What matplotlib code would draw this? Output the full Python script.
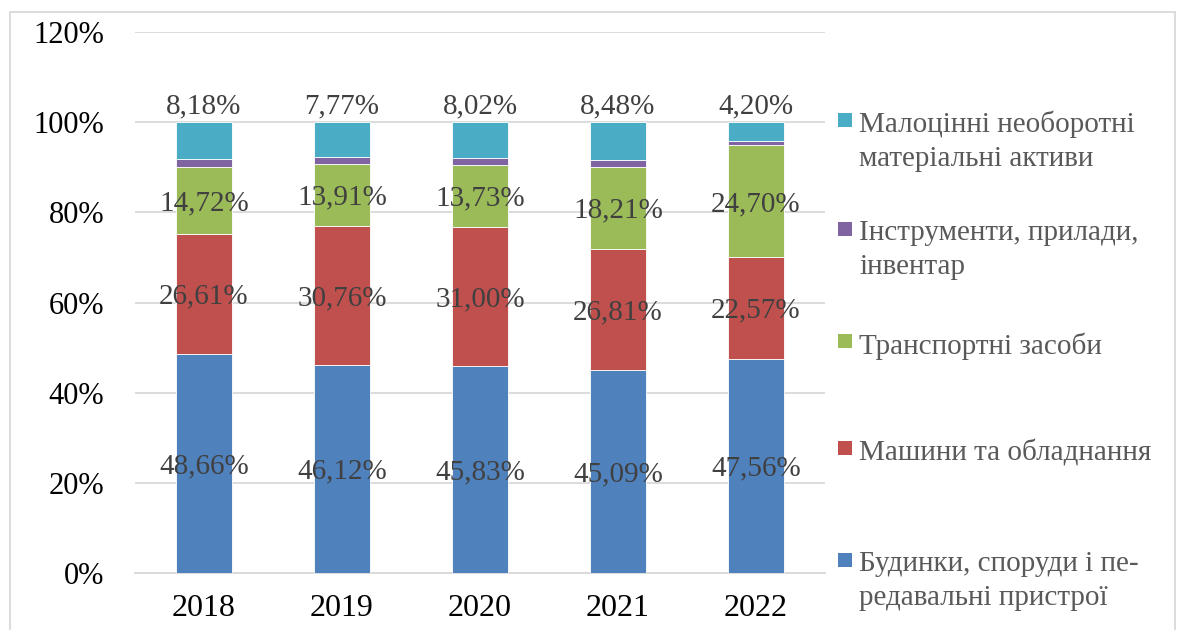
import matplotlib
matplotlib.use("Agg")
import matplotlib.pyplot as plt
from matplotlib.patches import Rectangle
import numpy as np

years = ["2018", "2019", "2020", "2021", "2022"]
series_names = [
    "Будинки, споруди і пе-\nредавальні пристрої",
    "Машини та обладнання",
    "Транспортні засоби",
    "Інструменти, прилади,\nінвентар",
    "Малоцінні необоротні\nматеріальні активи",
]
buildings = [48.66, 46.12, 45.83, 45.09, 47.56]
machines = [26.61, 30.76, 31.00, 26.81, 22.57]
transport = [14.72, 13.91, 13.73, 18.21, 24.70]
instruments = [1.83, 1.44, 1.42, 1.41, 0.97]
low_value = [8.18, 7.77, 8.02, 8.48, 4.20]
colors = ["#4F81BD", "#C0504D", "#9BBB59", "#8064A2", "#4BACC6"]
y_ticks = [0, 20, 40, 60, 80, 100, 120]

plt.rcParams["font.family"] = ["Liberation Serif", "DejaVu Serif"]

W, H = 1181, 630
fig = plt.figure(figsize=(W / 100, H / 100), dpi=100)
ax = fig.add_axes([135 / W, 1 - 573 / H, 690 / W, 541 / H])

data = [buildings, machines, transport, instruments, low_value]
x = np.arange(len(years))
bottom = np.zeros(len(years))
for vals, col in zip(data, colors):
    ax.bar(x, vals, width=0.4, bottom=bottom, color=col, edgecolor="white",
           linewidth=0.6, zorder=3)
    bottom = bottom + np.array(vals)

def fmt(v):
    return f"{v:.2f}%".replace(".", ",")

label_color = "#404040"
lfs = 21
cum = np.zeros(len(years))
for i, vals in enumerate(data):
    vals = np.array(vals)
    for j in range(len(years)):
        if i in (0, 1, 2):
            ax.annotate(fmt(vals[j]), (x[j], cum[j] + vals[j] / 2), xytext=(0, -2),
                        textcoords="offset points", ha="center", va="center",
                        fontsize=lfs, color=label_color, zorder=5)
        elif i == 4:
            ax.annotate(fmt(vals[j]), (x[j], cum[j] + vals[j]), xytext=(0, 2),
                        textcoords="offset points", ha="center", va="bottom",
                        fontsize=lfs, color=label_color, zorder=5)
    cum = cum + vals

ax.set_xlim(-0.5, len(years) - 0.5)
ax.set_ylim(0, 120)
ax.set_yticks(y_ticks)
ax.set_yticklabels([f"{t}%" for t in y_ticks])
ax.set_xticks(x)
ax.set_xticklabels(years)
ax.tick_params(axis="y", length=0, pad=22, labelsize=22, labelcolor="black")
ax.tick_params(axis="x", length=0, pad=15, labelsize=23, labelcolor="black")
ax.grid(axis="y", color="#d9d9d9", linewidth=1.3, zorder=0)
for s in ["left", "right", "top"]:
    ax.spines[s].set_visible(False)
ax.spines["bottom"].set_color("#d9d9d9")
ax.spines["bottom"].set_linewidth(1.3)

# legend (reversed order, drawn manually)
leg_y = [120, 229, 341, 448, 560]
for k, idx in enumerate([4, 3, 2, 1, 0]):
    yc = leg_y[k]
    fig.patches.append(Rectangle((838 / W, 1 - (yc + 7) / H), 14 / W, 14 / H,
                                 transform=fig.transFigure, facecolor=colors[idx],
                                 edgecolor="none"))
    fig.text(859 / W, 1 - (yc - 9) / H, series_names[idx], ha="left", va="top",
             fontsize=21, color="#595959", linespacing=1.38)

# outer border
fig.patches.append(Rectangle((10 / W, -0.05), 1165 / W, 1 - 12 / H + 0.05,
                             transform=fig.transFigure, facecolor="none",
                             edgecolor="#d9d9d9", linewidth=1.3))

fig.savefig("out.png", dpi=100)
